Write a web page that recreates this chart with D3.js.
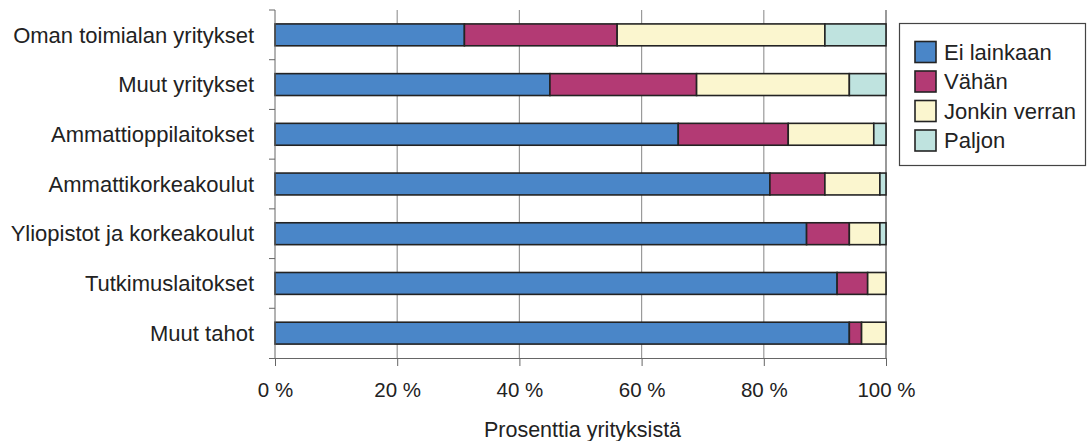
<!DOCTYPE html>
<html><head><meta charset="utf-8">
<script src="https://cdn.jsdelivr.net/npm/d3@7"></script>
<style>body{margin:0;background:#fff;}svg{display:block;font-family:"Liberation Sans",Arial,sans-serif;}</style>
</head><body><svg id="c" width="1092" height="441"></svg>
<script>
const categories = ["Oman toimialan yritykset","Muut yritykset","Ammattioppilaitokset","Ammattikorkeakoulut","Yliopistot ja korkeakoulut","Tutkimuslaitokset","Muut tahot"];
const seriesNames = ["Ei lainkaan","Vähän","Jonkin verran","Paljon"];
const eiLainkaan = [31,45,66,81,87,92,94];
const vahan = [25,24,18,9,7,5,2];
const jonkinVerran = [34,25,14,9,5,3,4];
const paljon = [10,6,2,1,1,0,0];
const colors = ["#4a86c8","#b33a74","#fbf6cf","#bfe3df"];
const tickValues = [0,20,40,60,80,100];

const svg = d3.select("#c");
const m = {left:275, right:886, top:10, bottom:358};
const x = d3.scaleLinear().domain([0,100]).range([m.left,m.right]);
const y = d3.scaleBand().domain(categories).range([m.top,m.bottom]).paddingInner(0.56).paddingOuter(0.28);
const yb = d3.scaleBand().domain(categories).range([m.top,m.bottom]);

const rows = categories.map((c,i)=>({cat:c, vals:[eiLainkaan[i],vahan[i],jonkinVerran[i],paljon[i]]}));
const stack = d3.stack().keys([0,1,2,3]).value((d,k)=>d.vals[k]);
const layers = stack(rows);

// gridlines
svg.append("g").selectAll("line").data(tickValues.slice(1)).join("line")
  .attr("x1",d=>x(d)).attr("x2",d=>x(d)).attr("y1",m.top).attr("y2",m.bottom)
  .attr("stroke",d=>d===100?"#555":"#9a9a9a").attr("stroke-width",1.2);

// bars
svg.append("g").selectAll("g").data(layers).join("g")
  .attr("fill",(d,i)=>colors[i])
  .selectAll("rect").data(d=>d.filter(s=>s[1]-s[0]>0)).join("rect")
  .attr("x",d=>x(d[0])).attr("width",d=>x(d[1])-x(d[0]))
  .attr("y",d=>y(d.data.cat)).attr("height",y.bandwidth())
  .attr("stroke","#232323").attr("stroke-width",1.6);

// x axis
const xAxis = d3.axisBottom(x).tickValues(tickValues).tickFormat(d=>d+" %").tickSize(8).tickPadding(16);
const gx = svg.append("g").attr("transform",`translate(0,${m.bottom})`).call(xAxis);
gx.select(".domain").attr("d",`M${m.left-6},0.5H${m.right}`).attr("stroke","#666");
gx.selectAll(".tick line").attr("stroke","#666");
gx.selectAll("text").attr("font-size",20.5).attr("fill","#222").attr("font-family","Liberation Sans, Arial, sans-serif");

// y axis (ticks between categories)
const gy = svg.append("g");
gy.append("line").attr("x1",m.left).attr("x2",m.left).attr("y1",m.top).attr("y2",m.bottom).attr("stroke","#666");
gy.selectAll("line.t").data(categories).join("line").attr("class","t")
  .attr("x1",m.left-6).attr("x2",m.left).attr("y1",d=>yb(d)).attr("y2",d=>yb(d)).attr("stroke","#666");
gy.selectAll("text").data(categories).join("text")
  .attr("x",254).attr("y",d=>yb(d)+yb.bandwidth()/2).attr("dy","0.35em")
  .attr("text-anchor","end").attr("font-size",22).attr("fill","#222").text(d=>d);

// axis title
svg.append("text").attr("x",(m.left+m.right)/2+2).attr("y",437).attr("text-anchor","middle")
  .attr("font-size",21.5).attr("fill","#222").text("Prosenttia yrityksistä");

// legend
const lg = svg.append("g");
lg.append("rect").attr("x",899.5).attr("y",23.5).attr("width",186).attr("height",142)
  .attr("fill","#fff").attr("stroke","#444").attr("stroke-width",1.2);
const li = lg.selectAll("g").data(seriesNames).join("g")
  .attr("transform",(d,i)=>`translate(915,${41.5+i*29.5})`);
li.append("rect").attr("width",21).attr("height",21).attr("fill",(d,i)=>colors[i]).attr("stroke","#232323").attr("stroke-width",1.6);
li.append("text").attr("x",29).attr("y",10.5).attr("dy","0.35em").attr("font-size",22).attr("fill","#222").text(d=>d);
</script></body></html>
